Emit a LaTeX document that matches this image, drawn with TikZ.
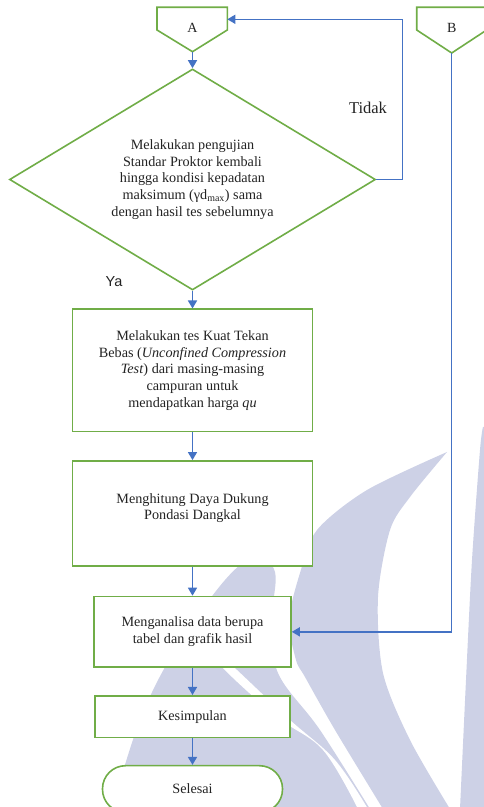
\documentclass[tikz,border=0pt]{standalone}
\usepackage{fontspec}
\setmainfont{Liberation Serif}
\newfontfamily\tidakfont{Liberation Serif}
\newfontfamily\yafont{Liberation Sans}
\usetikzlibrary{positioning,shapes.geometric,arrows.meta}
\definecolor{boxgreen}{RGB}{112,173,71}
\definecolor{lineblue}{RGB}{68,114,196}
\definecolor{wmlav}{RGB}{205,209,230}
\definecolor{txtgray}{RGB}{35,35,35}

\begin{document}
\begin{tikzpicture}[x=1pt,y=1pt,
  procbox/.style={draw=boxgreen, line width=1.6pt, fill=white, align=center, inner sep=2pt,
    text=txtgray, font=\fontsize{14.2}{16.8}\selectfont},
  flowline/.style={draw=lineblue, line width=1.5pt, -{Triangle[length=8pt,width=9pt]}},
  offpage/.style={draw=boxgreen, line width=1.6pt, fill=white}
  ]
 \useasboundingbox (0,0) rectangle (483,807);

 %Watermark
 \fill[wmlav] plot[smooth, tension=0.6] coordinates {(112,-2) (140,87) (175,157) (225,227) (255,249) (275,235) (272,187) (278,134) (320,77) (370,-2)} -- cycle;
 \fill[white] plot[smooth, tension=0.6] coordinates {(358,-2) (323,57) (277,90) (222,140) (212,160)} -- plot[smooth, tension=0.6] coordinates {(212,160) (237,137) (290,87) (335,47) (368,-2)} -- cycle;
 \fill[wmlav] plot[smooth] coordinates {(383,-2) (335,77) (305,130) (296,147) (289,187) (300,234) (317,277) (367,317) (447,355)} -- plot[smooth] coordinates {(447,355) (410,310) (390,277) (378,210) (383,134) (410,67) (450,-2)} -- cycle;
 \fill[wmlav] plot[smooth] coordinates {(483,380) (480,357) (472,247) (466,127) (460,-2)} -- (490,-2) -- (490,380) -- cycle;

 %Off-page connectors
 \draw[offpage] (157,799.7) -- (227.3,799.7) -- (227.3,777) -- (192.5,755.3) -- (157,777) -- cycle;
 \draw[offpage] (416.7,799.7) -- (486.7,799.7) -- (486.7,777) -- (451.7,754) -- (416.7,777) -- cycle;
 \node (A) [text=txtgray, font=\fontsize{14}{15}\selectfont] at (192.5,779) {A};
 \node (B) [text=txtgray, font=\fontsize{14}{15}\selectfont] at (451.7,779) {B};
 \coordinate (Atip) at (192.5,755.3);
 \coordinate (Aright) at (227.3,787.7);
 \coordinate (Btip) at (451.7,754);

 %Steps
 \node (cek) [procbox, shape=diamond, aspect=1.66, minimum width=366pt, minimum height=221pt, inner sep=0pt] at (192.5,627.5)
   {Melakukan pengujian\\Standar Proktor kembali\\hingga kondisi kepadatan\\maksimum (γd\textsubscript{max}) sama\\dengan hasil tes sebelumnya};
 \node (uji) [procbox, minimum width=240pt, minimum height=122.4pt] at (192.5,436.5)
   {Melakukan tes Kuat Tekan\\Bebas (\textit{Unconfined Compression}\\\textit{Test}) dari masing-masing\\campuran untuk\\mendapatkan harga \textit{qu}};
 \node (hitung) [procbox, minimum width=240pt, minimum height=105pt, below=27.6pt of uji]
   {Menghitung Daya Dukung\\Pondasi Dangkal\\[-3pt]\mbox{}};
 \node (analisa) [procbox, minimum width=197pt, minimum height=70.7pt, below=29pt of hitung]
   {Menganalisa data berupa\\tabel dan grafik hasil};
 \node (simpul) [procbox, minimum width=194.7pt, minimum height=41.7pt, below=27pt of analisa] {Kesimpulan};
 \node (selesai) [procbox, rounded corners=23pt, minimum width=180pt, minimum height=46.7pt, below=26.6pt of simpul] {Selesai};

 %Labels
 \node (tidak) [text=txtgray, font=\tidakfont\fontsize{16.5}{18}\selectfont] at (368,699) {Tidak};
 \node (ya) [text=txtgray, font=\yafont\fontsize{14.5}{16}\selectfont] at (114,525) {Ya};

 %Flow
 \draw[flowline] (Atip) -- (cek.north);
 \draw[flowline] (cek.east) -- ++(26,0) |- (Aright);
 \draw[flowline] (cek.south) -- (uji.north);
 \draw[flowline] (uji.south) -- (hitung.north);
 \draw[flowline] (hitung.south) -- (analisa.north);
 \draw[flowline] (Btip) |- (analisa.east);
 \draw[flowline] (analisa.south) -- (simpul.north);
 \draw[flowline] (simpul.south) -- (selesai.north);
\end{tikzpicture}
\end{document}
